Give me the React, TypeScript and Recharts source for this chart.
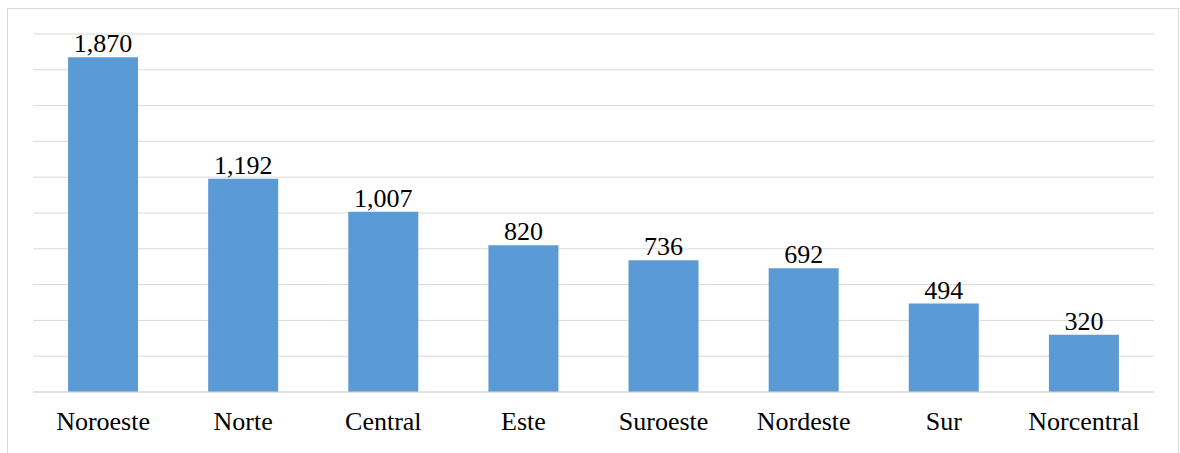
import React from "react";
import { BarChart, Bar, XAxis, YAxis, CartesianGrid, LabelList } from "recharts";

const categories = ["Noroeste", "Norte", "Central", "Este", "Suroeste", "Nordeste", "Sur", "Norcentral"];
const values = [1870, 1192, 1007, 820, 736, 692, 494, 320];
const yTicks = [0, 200, 400, 600, 800, 1000, 1200, 1400, 1600, 1800, 2000];

const data = categories.map((name, i) => ({ name, value: values[i] }));

const FONT = "'Liberation Serif', 'Times New Roman', serif";

export default function App() {
  return (
    <div
      style={{
        position: "absolute",
        left: 7,
        top: 8,
        width: 1170,
        height: 444,
        border: "1px solid #d9d9d9",
        background: "#fff",
      }}
    >
      <BarChart
        width={1170}
        height={444}
        data={data}
        margin={{ top: 25, right: 24, bottom: 11, left: 25 }}
        barCategoryGap="25%"
      >
        <CartesianGrid vertical={false} stroke="#d9d9d9" strokeWidth={1} />
        <YAxis hide domain={[0, 2000]} ticks={yTicks} />
        <XAxis
          dataKey="name"
          height={50}
          tickLine={false}
          tickSize={0}
          tickMargin={20}
          axisLine={{ stroke: "#d9d9d9" }}
          tick={{ fill: "#000", fontSize: 26, fontFamily: FONT }}
          interval={0}
        />
        <Bar dataKey="value" fill="#5b9bd5" isAnimationActive={false}>
          <LabelList
            dataKey="value"
            position="top"
            offset={5}
            formatter={(v: number) => v.toLocaleString("en-US")}
            style={{ fill: "#000", fontSize: 26, fontFamily: FONT }}
          />
        </Bar>
      </BarChart>
    </div>
  );
}
